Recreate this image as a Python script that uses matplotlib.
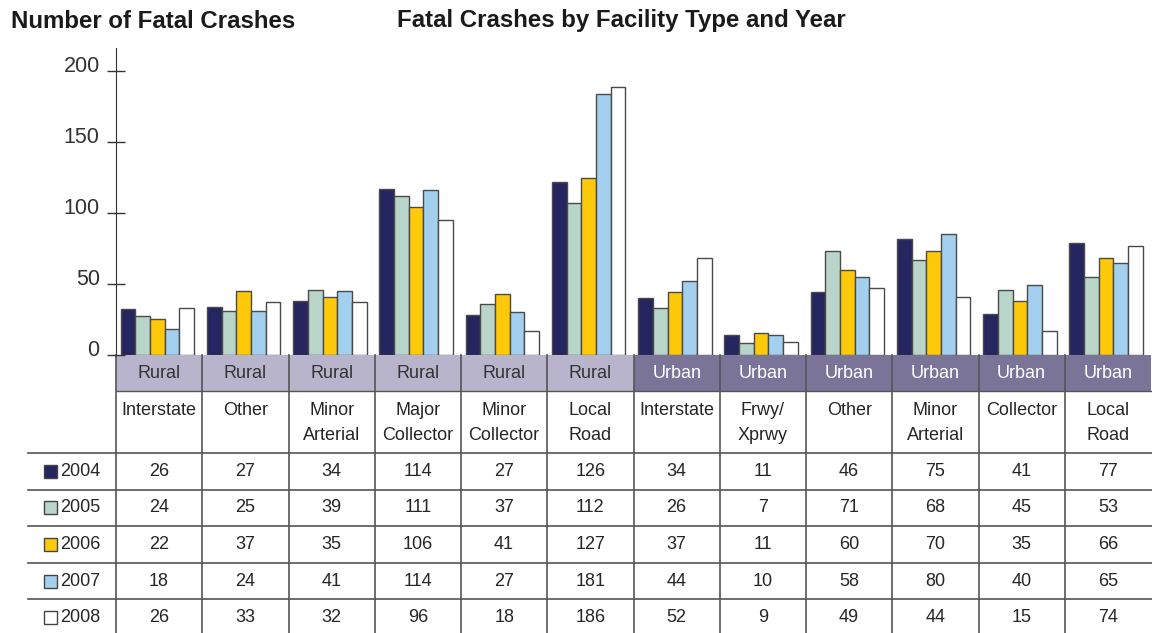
import matplotlib
matplotlib.use('Agg')
import matplotlib.pyplot as plt
from matplotlib.patches import Rectangle
from matplotlib.transforms import ScaledTranslation

narrow = ['Liberation Sans Narrow', 'Liberation Sans', 'DejaVu Sans']
plt.rcParams['font.family'] = narrow

areas = ['Rural'] * 6 + ['Urban'] * 6
facilities = ['Interstate', 'Other', 'Minor\nArterial', 'Major\nCollector', 'Minor\nCollector',
              'Local\nRoad', 'Interstate', 'Frwy/\nXprwy', 'Other', 'Minor\nArterial',
              'Collector', 'Local\nRoad']
years = ['2004', '2005', '2006', '2007', '2008']
colors = ['#25255f', '#b9d5c9', '#ffc90b', '#a3d0ee', '#ffffff']

# bar heights as drawn in the chart
bar_2004 = [32, 34, 38, 117, 28, 122, 40, 14, 44, 82, 29, 79]
bar_2005 = [27, 31, 46, 112, 36, 107, 33, 8, 73, 67, 46, 55]
bar_2006 = [25, 45, 41, 104, 43, 125, 44, 15, 60, 73, 38, 68]
bar_2007 = [18, 31, 45, 116, 30, 184, 52, 14, 55, 85, 49, 65]
bar_2008 = [33, 37, 37, 95, 17, 189, 68, 9, 47, 41, 17, 77]

# values printed in the table
tab_2004 = [26, 27, 34, 114, 27, 126, 34, 11, 46, 75, 41, 77]
tab_2005 = [24, 25, 39, 111, 37, 112, 26, 7, 71, 68, 45, 53]
tab_2006 = [22, 37, 35, 106, 41, 127, 37, 11, 60, 70, 35, 66]
tab_2007 = [18, 24, 41, 114, 27, 181, 44, 10, 58, 80, 40, 65]
tab_2008 = [26, 33, 32, 96, 18, 186, 52, 9, 49, 44, 15, 74]

bars = [bar_2004, bar_2005, bar_2006, bar_2007, bar_2008]
table = [tab_2004, tab_2005, tab_2006, tab_2007, tab_2008]

W, H = 1152, 633
fig = plt.figure(figsize=(W / 100, H / 100), dpi=100)

# pixel layout
left, right = 116, 1151
base, top = 354.7, 48
colw = (right - left) / 12
fs = 13
txtc = '#262626'

ax = fig.add_axes([left / W, (H - base) / H, (right - left) / W, (base - top) / H])
n = len(areas)
bw = 0.17
for k, (vals, c) in enumerate(zip(bars, colors)):
    xs = [i + (k - 2) * bw - 0.02 for i in range(n)]
    ax.bar(xs, vals, width=bw, color=c, edgecolor='#4a4a4a', linewidth=1.0, zorder=3)

ax.set_xlim(-0.5, n - 0.5)
ax.set_ylim(0, (base - top) / 1.417)
ax.set_yticks([0, 50, 100, 150, 200])
ax.set_yticklabels(['0', '50', '100', '150', '200'], fontsize=15.5, color='#333333')
ax.tick_params(axis='y', direction='inout', length=13.5, width=1, color='#333333', pad=5)
for lab in ax.get_yticklabels():
    lab.set_transform(lab.get_transform() + ScaledTranslation(0, 0.07, fig.dpi_scale_trans))
ax.set_xticks([])
for s in ['top', 'right', 'bottom']:
    ax.spines[s].set_visible(False)
ax.spines['left'].set_color('#333333')
ax.patch.set_alpha(0)

# overlay in pixel coordinates for the table and titles
ov = fig.add_axes([0, 0, 1, 1], zorder=-1)
ov.set_xlim(0, W)
ov.set_ylim(H, 0)
ov.axis('off')

hdr_bot = 391
name_bot = 453
rowh = 36.6
gridc = '#555555'

for i in range(n):
    x0 = left + i * colw
    fc = '#b8b4cc' if areas[i] == 'Rural' else '#7b7499'
    tc = '#333333' if areas[i] == 'Rural' else 'white'
    ov.add_patch(Rectangle((x0, base), colw, hdr_bot - base, facecolor=fc, edgecolor='none'))
    ov.text(x0 + colw / 2, (base + hdr_bot) / 2 + 1, areas[i], ha='center', va='center',
            fontsize=fs, color=tc)
    ov.text(x0 + colw / 2, 402, facilities[i], ha='center', va='top', fontsize=fs,
            color=txtc, linespacing=1.6)
    for r in range(5):
        yc = name_bot + (r + 0.5) * rowh
        ov.text(x0 + colw / 2, yc, str(table[r][i]), ha='center', va='center',
                fontsize=fs, color=txtc)

# grid lines
for i in range(n):
    x0 = left + i * colw
    ov.plot([x0, x0], [base, H], color=gridc, lw=1.2)
ov.plot([left, W], [hdr_bot, hdr_bot], color=gridc, lw=1)
for r in range(5):
    y = name_bot + r * rowh
    ov.plot([28, W], [y, y], color=gridc, lw=1.2)

# legend column
for r in range(5):
    yc = name_bot + (r + 0.5) * rowh
    ov.add_patch(Rectangle((44, yc - 6.5), 13, 13, facecolor=colors[r], edgecolor='#444444', lw=1))
    ov.text(60, yc, years[r], ha='left', va='center', fontsize=fs, color=txtc)

# titles
ov.text(11, 21, 'Number of Fatal Crashes', ha='left', va='center', fontsize=17.3,
        fontweight='bold', family=['Liberation Sans', 'DejaVu Sans'], color='#1a1a1a')
ov.text(397, 21, 'Fatal Crashes by Facility Type and Year', ha='left', va='center',
        fontsize=17.3, fontweight='bold', family=['Liberation Sans', 'DejaVu Sans'], color='#1a1a1a')

fig.savefig('out.png', dpi=100)
